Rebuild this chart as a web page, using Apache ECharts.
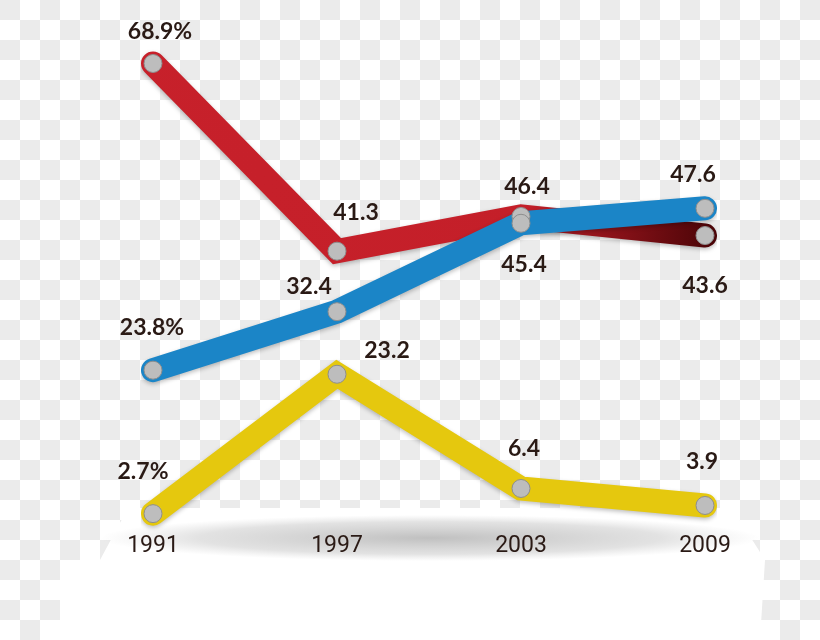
<!DOCTYPE html>
<html>
<head>
<meta charset="utf-8">
<script src="https://cdn.jsdelivr.net/npm/echarts@6/dist/echarts.min.js"></script>
<style>
  html, body { margin: 0; padding: 0; }
  #chart {
    width: 820px;
    height: 640px;
    background: repeating-conic-gradient(#ffffff 0 25%, #ebebeb 0 50%) 0 0 / 40px 40px;
  }
</style>
</head>
<body>
<div id="chart"></div>
<script>
// 数据
var years = ['1991', '1997', '2003', '2009']
var redValues = [68.9, 41.3, 46.4, 43.6]
var blueValues = [23.8, 32.4, 45.4, 47.6]
var yellowValues = [2.7, 23.2, 6.4, 3.9]

// 标签偏移 (相对于数据点)
var redOffsets = [[7, -32], [19, -39], [6, -30], [0, 50]]
var blueOffsets = [[-1, -43], [-28, -25], [3, 41], [-12, -34]]
var yellowOffsets = [[-10, -42], [50, -24], [3, -40], [-3, -44]]

var textColor = '#2a1a15'

function makeData (values, offsets) {
  return values.map(function (v, i) {
    return { value: v, label: { offset: offsets[i] } }
  })
}

function makeSeries (name, values, offsets, color) {
  return {
    name: name,
    type: 'line',
    data: makeData(values, offsets),
    symbol: 'circle',
    symbolSize: 18,
    itemStyle: {
      color: '#bdbdbd',
      borderColor: '#8e8e8e',
      borderWidth: 1
    },
    lineStyle: {
      width: 24,
      color: color,
      cap: 'round',
      join: 'miter',
      shadowColor: 'rgba(0,0,0,0.25)',
      shadowBlur: 4,
      shadowOffsetY: 2
    },
    label: {
      show: true,
      position: 'inside',
      color: textColor,
      fontFamily: 'Lato',
      fontWeight: 'bold',
      fontSize: 23,
      formatter: function (p) {
        return p.dataIndex === 0 ? p.value + '%' : String(p.value)
      }
    },
    emphasis: { disabled: true }
  }
}

var chart = echarts.init(document.getElementById('chart'))

var redGradient = new echarts.graphic.LinearGradient(0, 0, 820, 0, [
  { offset: 0, color: '#c8212b' },
  { offset: 0.64, color: '#c41f29' },
  { offset: 0.87, color: '#4a0407' }
], true)

var option = {
  backgroundColor: 'transparent',
  animation: false,
  grid: {
    left: 153,
    right: 115,
    top: 56,
    bottom: 108
  },
  xAxis: {
    type: 'category',
    data: years,
    boundaryGap: false,
    z: 10,
    axisLine: { show: false },
    axisTick: { show: false },
    axisLabel: {
      margin: 3,
      color: textColor,
      fontFamily: "'Liberation Sans Narrow', 'Roboto'",
      fontWeight: 'normal',
      fontSize: 23
    }
  },
  yAxis: {
    type: 'value',
    min: 0,
    max: 70,
    show: false
  },
  graphic: [
    {
      type: 'polygon',
      z: -2,
      shape: {
        points: [[128, 508], [732, 508], [765, 560], [760, 640], [60, 640], [60, 560], [100, 560]]
      },
      style: { fill: '#ffffff' }
    },
    {
      type: 'circle',
      z: -1,
      shape: { cx: 430, cy: 538, r: 330 },
      originX: 430,
      originY: 538,
      scaleY: 0.07,
      style: {
        fill: new echarts.graphic.RadialGradient(0.5, 0.5, 0.5, [
          { offset: 0, color: 'rgba(140,140,140,0.55)' },
          { offset: 0.7, color: 'rgba(160,160,160,0.3)' },
          { offset: 1, color: 'rgba(180,180,180,0)' }
        ])
      }
    }
  ],
  series: [
    makeSeries('yellow', yellowValues, yellowOffsets, '#e5c80e'),
    makeSeries('red', redValues, redOffsets, redGradient),
    makeSeries('blue', blueValues, blueOffsets, '#1b85c7')
  ]
}

chart.setOption(option)
</script>
</body>
</html>
